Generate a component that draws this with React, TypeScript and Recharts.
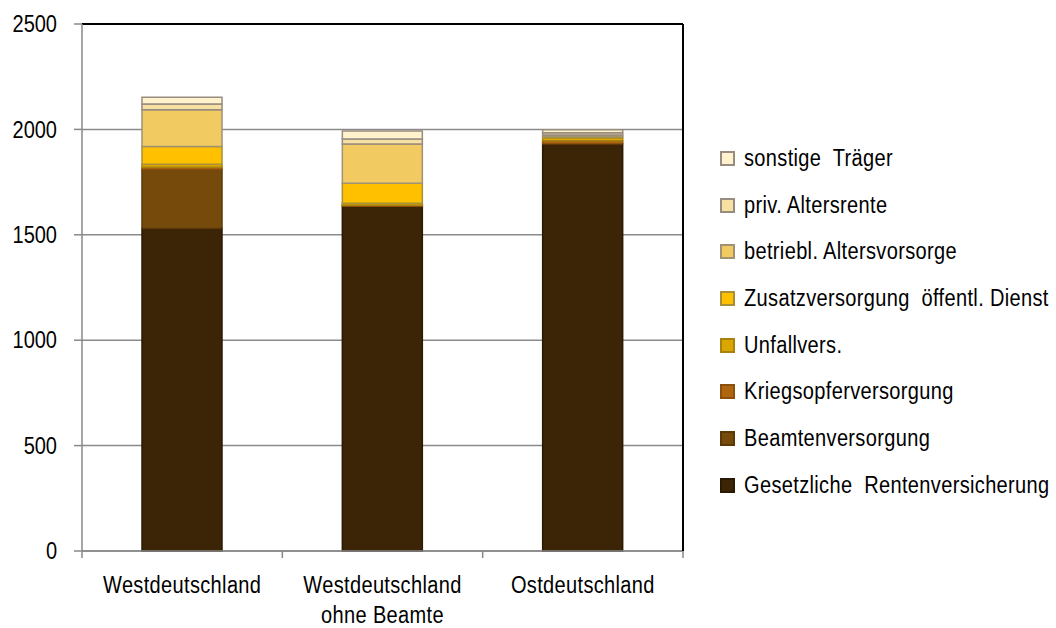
import { BarChart, Bar, XAxis, YAxis, CartesianGrid, Legend } from 'recharts';

// Renteneinkommen nach Träger (Werte aus dem Bild geschätzt)
const categories = ['Westdeutschland', 'Westdeutschland\nohne Beamte', 'Ostdeutschland'];
const grv = [1530, 1635, 1932];
const beamten = [280, 0, 0];
const kriegsopfer = [10, 5, 14];
const unfall = [15, 10, 14];
const zusatz = [84, 95, 6];
const betriebl = [174, 186, 8];
const priv = [27, 24, 10];
const sonstige = [32, 38, 14];
const yTicks = [0, 500, 1000, 1500, 2000, 2500];

const series = [
  { key: 'grv', name: 'Gesetzliche  Rentenversicherung', values: grv, fill: '#3b2506', stroke: '#2a1a04' },
  { key: 'beamten', name: 'Beamtenversorgung', values: beamten, fill: '#764a0b', stroke: '#5a3808' },
  { key: 'kriegsopfer', name: 'Kriegsopferversorgung', values: kriegsopfer, fill: '#b0650f', stroke: '#8a500c' },
  { key: 'unfall', name: 'Unfallvers.', values: unfall, fill: '#dba600', stroke: '#a8820e' },
  { key: 'zusatz', name: 'Zusatzversorgung  öffentl. Dienst', values: zusatz, fill: '#ffc000', stroke: '#a8903a' },
  { key: 'betriebl', name: 'betriebl. Altersvorsorge', values: betriebl, fill: '#f1ca61', stroke: '#a09275' },
  { key: 'priv', name: 'priv. Altersrente', values: priv, fill: '#f6e0a2', stroke: '#978c80' },
  { key: 'sonstige', name: 'sonstige  Träger', values: sonstige, fill: '#fff2cc', stroke: '#978c80' },
];

const data = categories.map((name, i) => {
  const row: Record<string, string | number> = { name };
  series.forEach((s) => { row[s.key] = s.values[i]; });
  return row;
});

const FONT = '"Liberation Sans", Arial, sans-serif';
const FS = 23;
const SX = 0.87; // Schrift etwas schmaler
const W = 1056;
const H = 628;
const LEFT = 82;
const RIGHT = 373;
const TOP = 24;
const BOTTOM = 77;
const PLOT_BOTTOM = H - BOTTOM;
const HALF_BAND = (W - LEFT - RIGHT) / categories.length / 2;

function CategoryTick(props: any) {
  const { x, payload, index } = props;
  const lines = String(payload.value).split('\n');
  return (
    <g>
      <line x1={x - HALF_BAND} x2={x - HALF_BAND} y1={PLOT_BOTTOM} y2={PLOT_BOTTOM + 7} stroke="#888" strokeWidth={1.5} />
      {index === categories.length - 1 && (
        <line x1={x + HALF_BAND} x2={x + HALF_BAND} y1={PLOT_BOTTOM} y2={PLOT_BOTTOM + 7} stroke="#888" strokeWidth={1.5} />
      )}
      {lines.map((l, i) => (
        <g key={i} transform={`translate(${x},${PLOT_BOTTOM + 42 + i * 30}) scale(${SX},1)`}>
          <text x={0} y={0} textAnchor="middle" fontSize={FS} fill="#000" fontFamily={FONT} letterSpacing={0.4}>
            {l}
          </text>
        </g>
      ))}
    </g>
  );
}

function ValueTick(props: any) {
  const { x, y, payload } = props;
  return (
    <g transform={`translate(${x},${y}) scale(${SX},1)`}>
      <text x={0} y={0} dy="0.36em" textAnchor="end" fontSize={FS} fill="#000" fontFamily={FONT}>
        {payload.value}
      </text>
    </g>
  );
}

function LegendBox(props: any) {
  const order = series.map((s) => s.key);
  const items = [...(props.payload || [])].sort(
    (a: any, b: any) => order.indexOf(b.dataKey) - order.indexOf(a.dataKey),
  );
  return (
    <div style={{ fontFamily: FONT, fontSize: FS, color: '#000', lineHeight: 1 }}>
      {items.map((it: any) => {
        const s = series.find((x) => x.key === it.dataKey);
        return (
          <div key={it.dataKey} style={{ height: 46.7, display: 'flex', alignItems: 'center', whiteSpace: 'pre' }}>
            <span
              style={{
                flexShrink: 0,
                width: 11,
                height: 11,
                background: s?.fill,
                border: `2px solid ${s?.stroke}`,
                marginRight: 9,
              }}
            />
            <span
              style={{
                flexShrink: 0,
                display: 'inline-block',
                letterSpacing: 0.4,
                transform: `scaleX(${SX})`,
                transformOrigin: 'left center',
              }}
            >
              {s?.name}
            </span>
          </div>
        );
      })}
    </div>
  );
}

export default function App() {
  return (
    <div style={{ position: 'absolute', left: 0, top: 0, background: '#fff' }}>
      <BarChart width={W} height={H} data={data} margin={{ top: TOP - 1, right: RIGHT - 1, bottom: 0, left: 0 }} barSize={80}>
        <CartesianGrid vertical={false} stroke="#8a8a8a" strokeWidth={1.5} />
        <XAxis
          dataKey="name"
          interval={0}
          tickLine={false}
          axisLine={{ stroke: '#888', strokeWidth: 1.5 }}
          tick={<CategoryTick />}
          height={BOTTOM}
        />
        <XAxis xAxisId="top" orientation="top" dataKey="name" tick={false} tickLine={false} height={1} axisLine={{ stroke: '#000', strokeWidth: 2 }} />
        <YAxis
          domain={[0, 2500]}
          ticks={yTicks}
          width={LEFT}
          tickSize={8}
          tickMargin={17}
          interval={0}
          axisLine={{ stroke: '#888', strokeWidth: 1.5 }}
          tickLine={{ stroke: '#888', strokeWidth: 1.5 }}
          tick={<ValueTick />}
        />
        <YAxis yAxisId="right" orientation="right" domain={[0, 2500]} width={1} tick={false} tickLine={false} axisLine={{ stroke: '#000', strokeWidth: 2 }} />
        {series.map((s) => (
          <Bar
            key={s.key}
            dataKey={s.key}
            name={s.name}
            stackId="a"
            fill={s.fill}
            stroke={s.stroke}
            strokeWidth={1.5}
            isAnimationActive={false}
          />
        ))}
        <Legend
          layout="vertical"
          align="center"
          verticalAlign="middle"
          content={<LegendBox />}
          wrapperStyle={{ left: 720, top: 135, width: 336 }}
        />
      </BarChart>
    </div>
  );
}
